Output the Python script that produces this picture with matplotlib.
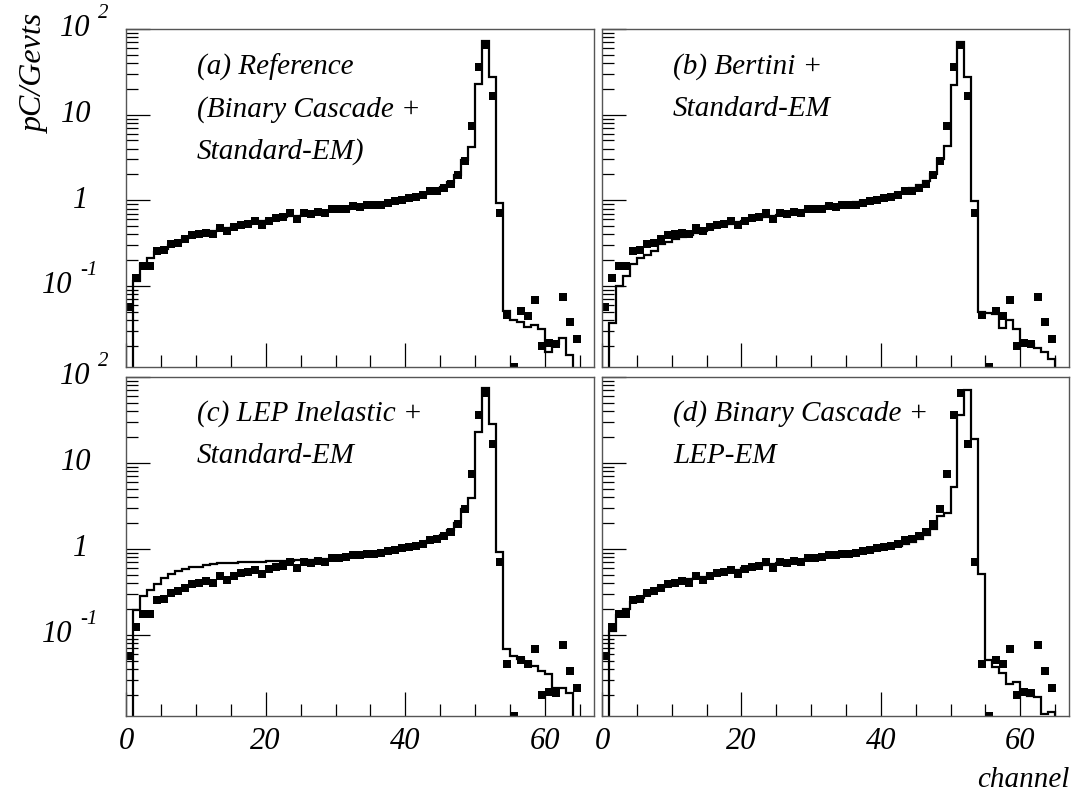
import numpy as np
import matplotlib.pyplot as plt
import matplotlib.transforms as mtransforms
from matplotlib.ticker import FixedLocator, NullFormatter, LogLocator

plt.rcParams['font.family'] = 'Liberation Serif'
plt.rcParams['font.style'] = 'italic'

nan = np.nan

# channel bin edges 0..67
edges = np.arange(0, 68)
centres = edges[:-1] + 0.5

# measured data (markers), one value per channel
data = [0.057, 0.123, 0.173, 0.173, 0.255, 0.26, 0.305, 0.32, 0.35, 0.39,
        0.40, 0.42, 0.40, 0.48, 0.436, 0.485, 0.52, 0.53, 0.57, 0.51,
        0.58, 0.62, 0.63, 0.71, 0.60, 0.71, 0.69, 0.73, 0.71, 0.79,
        0.79, 0.80, 0.85, 0.84, 0.87, 0.88, 0.89, 0.93, 0.97, 1.02,
        1.05, 1.08, 1.14, 1.28, 1.30, 1.39, 1.55, 1.95, 2.9, 7.4,
        36, 65, 16.6, 0.71, 0.046, 0.0113, 0.051, 0.045, 0.068, 0.020,
        0.0214, 0.021, 0.075, 0.038, 0.024, nan, nan]

# simulations (histograms)
hist_a = [0.0, 0.114, 0.18, 0.21, 0.25, 0.27, 0.30, 0.33, 0.36, 0.38,
          0.40, 0.42, 0.44, 0.46, 0.47, 0.49, 0.51, 0.53, 0.55, 0.57,
          0.59, 0.61, 0.63, 0.65, 0.66, 0.68, 0.70, 0.72, 0.74, 0.76,
          0.78, 0.80, 0.83, 0.85, 0.87, 0.89, 0.91, 0.94, 0.97, 1.00,
          1.04, 1.08, 1.14, 1.22, 1.30, 1.42, 1.62, 1.99, 2.97, 4.15,
          23, 72, 27.7, 0.93, 0.051, 0.040, 0.0375, 0.033, 0.035, 0.031,
          0.017, 0.021, 0.0246, 0.0158, 0.0, 0.0, 0.0]

hist_b = [0.0, 0.037, 0.10, 0.13, 0.18, 0.21, 0.23, 0.255, 0.305, 0.33,
          0.35, 0.37, 0.39, 0.42, 0.44, 0.47, 0.49, 0.51, 0.53, 0.56,
          0.58, 0.60, 0.62, 0.64, 0.66, 0.68, 0.70, 0.72, 0.74, 0.77,
          0.79, 0.82, 0.85, 0.88, 0.91, 0.93, 0.96, 0.99, 1.02, 1.06,
          1.10, 1.15, 1.21, 1.29, 1.38, 1.50, 1.70, 2.05, 3.0, 4.3,
          22, 71, 27.7, 0.97, 0.049, 0.048, 0.047, 0.032, 0.040, 0.031,
          0.022, 0.021, 0.019, 0.017, 0.014, 0.0, 0.0]

hist_c = [0.0, 0.196, 0.285, 0.335, 0.39, 0.46, 0.51, 0.55, 0.58, 0.61,
          0.62, 0.65, 0.66, 0.68, 0.68, 0.68, 0.71, 0.71, 0.71, 0.71,
          0.73, 0.73, 0.73, 0.73, 0.74, 0.74, 0.74, 0.77, 0.77, 0.77,
          0.79, 0.81, 0.83, 0.85, 0.87, 0.89, 0.91, 0.94, 0.97, 1.00,
          1.04, 1.08, 1.14, 1.22, 1.31, 1.43, 1.64, 2.0, 2.9, 3.9,
          23, 74, 28.5, 0.92, 0.069, 0.056, 0.052, 0.048, 0.043, 0.038,
          0.035, 0.024, 0.024, 0.021, 0.0, 0.0, 0.0]

hist_d = [0.0, 0.11, 0.17, 0.20, 0.24, 0.27, 0.30, 0.33, 0.36, 0.38,
          0.40, 0.42, 0.44, 0.46, 0.47, 0.49, 0.51, 0.53, 0.55, 0.57,
          0.59, 0.61, 0.63, 0.65, 0.66, 0.68, 0.70, 0.72, 0.74, 0.76,
          0.78, 0.80, 0.82, 0.84, 0.86, 0.88, 0.90, 0.92, 0.95, 0.98,
          1.01, 1.04, 1.08, 1.13, 1.20, 1.30, 1.45, 1.70, 2.4, 2.6,
          5.2, 36, 70, 19, 0.51, 0.051, 0.042, 0.036, 0.027, 0.028,
          0.021, 0.0195, 0.019, 0.0119, 0.0125, 0.0, 0.0]

titles = [["(a) Reference", "(Binary Cascade +", "Standard-EM)"],
          ["(b) Bertini +", "Standard-EM"],
          ["(c) LEP Inelastic +", "Standard-EM"],
          ["(d) Binary Cascade +", "LEP-EM"]]
hists = [hist_a, hist_b, hist_c, hist_d]

# y tick labels written ROOT-style: mantissa + raised exponent
yticks = [100, 10, 1, 0.1]
ylab_main = ['10', '10', '1', '10']
ylab_exp = ['2', '', '', '-1']
ylab_right = [-0.077, -0.073, -0.081, -0.115]   # right edge of main text (axes x)
xticks = [0, 20, 40, 60]

fig = plt.figure(figsize=(10.74, 7.93), dpi=100)
W, H = 1074, 793
boxes = [(126, 29, 594, 367), (602, 29, 1069, 367),
         (126, 377, 594, 716), (602, 377, 1069, 716)]

for i, (x0, y0, x1, y1) in enumerate(boxes):
    ax = fig.add_axes([x0 / W, 1 - y1 / H, (x1 - x0) / W, (y1 - y0) / H])
    ax.set_yscale('log', nonpositive='clip')
    ax.stairs(hists[i], edges, color='black', lw=1.6, baseline=None)
    ax.plot(centres, data, 's', color='black', ms=5.6, mew=0)
    ax.set_xlim(0, 67)
    ax.set_ylim(0.0113, 100)

    for s in ax.spines.values():
        s.set_color('#555555')
        s.set_linewidth(1.0)

    ax.yaxis.set_major_locator(FixedLocator(yticks))
    ax.yaxis.set_minor_locator(LogLocator(base=10, subs=np.arange(2, 10), numticks=20))
    ax.yaxis.set_minor_formatter(NullFormatter())
    ax.yaxis.set_major_formatter(NullFormatter())
    ax.xaxis.set_major_locator(FixedLocator(xticks))
    ax.xaxis.set_minor_locator(FixedLocator(np.arange(5, 67, 5)))
    ax.tick_params(which='both', direction='in', top=False, right=False,
                   color='black', width=0.9)
    ax.tick_params(which='major', length=17)
    ax.tick_params(which='minor', length=8.5)
    ax.tick_params(axis='x', which='major', labelsize=22, pad=8)

    if i % 2 == 0:
        trans = mtransforms.blended_transform_factory(ax.transAxes, ax.transData)
        for val, main, ex, xr in zip(yticks, ylab_main, ylab_exp, ylab_right):
            ax.text(xr, val, main, transform=trans, fontsize=22,
                    ha='right', va='center', clip_on=False)
            if ex:
                up = mtransforms.offset_copy(trans, fig=fig, x=6, y=11, units='points')
                ax.text(xr, val, ex, transform=up, fontsize=15,
                        ha='left', va='center', clip_on=False)

    if i >= 2:
        ax.set_xticklabels([str(t) for t in xticks])
    else:
        ax.set_xticklabels([])

    ty = 0.888 if i < 2 else 0.891
    for k, line in enumerate(titles[i]):
        ax.text(0.152, ty - k * 0.125, line, transform=ax.transAxes,
                fontsize=21, va='center', ha='left')

fig.text(35 / W, 1 - 14 / H, 'pC/Gevts', rotation=90, fontsize=23,
         ha='center', va='top')
fig.text(1069 / W, 1 - 780 / H, 'channel', fontsize=21, ha='right', va='center')

fig.savefig('out.png', dpi=100)
